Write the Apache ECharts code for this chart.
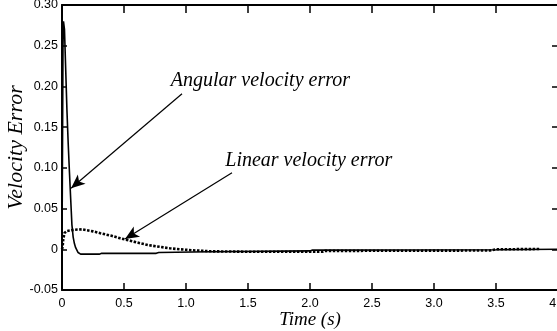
<!DOCTYPE html>
<html>
<head>
<meta charset="utf-8">
<script src="https://cdn.jsdelivr.net/npm/echarts@6/dist/echarts.min.js"></script>
<style>html,body{margin:0;padding:0;background:#fff}#c{width:557px;height:331px}</style>
</head>
<body>
<div id="c"></div>
<script>
// Angular velocity error (solid)
var angT = [0, 0.004, 0.008, 0.012, 0.016, 0.02, 0.03, 0.04, 0.05, 0.06, 0.07, 0.08, 0.09, 0.1, 0.11, 0.13, 0.15, 0.3, 0.32, 0.76, 0.78, 1.2, 2.0, 2.02, 3.5, 4.0];
var angV = [0, 0.12, 0.25, 0.28, 0.279, 0.27, 0.22, 0.17, 0.13, 0.095, 0.062, 0.03, 0.015, 0.007, 0.002, -0.004, -0.006, -0.006, -0.005, -0.005, -0.004, -0.003, -0.002, -0.001, -0.0005, 0];
// Linear velocity error (dotted)
var linT = [0, 0.005, 0.01, 0.02, 0.04, 0.1, 0.16, 0.25, 0.31, 0.4, 0.47, 0.55, 0.63, 0.7, 0.79, 0.87, 0.95, 1.05, 1.11, 1.2, 1.5, 2.1, 2.12, 3.45, 3.5, 3.85];
var linV = [0, 0.003, 0.012, 0.02, 0.0225, 0.024, 0.0245, 0.022, 0.0197, 0.0165, 0.0135, 0.0105, 0.0074, 0.005, 0.003, 0.0012, 0, -0.0012, -0.0017, -0.0025, -0.003, -0.003, -0.002, -0.0015, 0, 0.0003];
// Annotation texts and arrows (data coordinates)
var annoText = ['Angular velocity error', 'Linear velocity error'];
var annoTextPos = [[1.60, 0.207], [1.99, 0.109]];
var arrowFrom = [[0.968, 0.191], [1.371, 0.094]];
var arrowTo = [[0.073, 0.075], [0.508, 0.0127]];
var xTicks = [0, 0.5, 1.0, 1.5, 2.0, 2.5, 3.0, 3.5, 4.0];
var yTicks = [-0.05, 0, 0.05, 0.10, 0.15, 0.20, 0.25, 0.30];

function zip(a, b) { return a.map(function (v, i) { return [v, b[i]]; }); }

var chart = echarts.init(document.getElementById('c'), null, {renderer: 'canvas'});
var axisLine = {show: true, onZero: false, lineStyle: {color: '#000', width: 2}};
var labelFont = {fontFamily: 'Liberation Sans', fontSize: 12.5, color: '#000'};
chart.setOption({
  animation: false,
  backgroundColor: '#fff',
  grid: {left: 62, top: 5, width: 496, height: 285, containLabel: false, outerBoundsMode: 'none'},
  xAxis: [{
    type: 'value', min: xTicks[0], max: xTicks[xTicks.length - 1], interval: 0.5,
    axisLine: axisLine,
    axisTick: {show: true, inside: true, length: 7, lineStyle: {color: '#000', width: 1.5}},
    splitLine: {show: false},
    axisLabel: Object.assign({margin: 7, hideOverlap: false, showMaxLabel: true, formatter: function (v) { return Math.abs(v) < 1e-9 ? '0' : v.toFixed(1); }}, labelFont),
    name: 'Time (s)', nameLocation: 'middle', nameGap: 20, nameMoveOverlap: false,
    nameTextStyle: {fontFamily: 'Liberation Serif', fontStyle: 'italic', fontSize: 19, color: '#000', verticalAlign: 'top'}
  }, {
    type: 'value', position: 'top', min: xTicks[0], max: xTicks[xTicks.length - 1], interval: 0.5,
    axisLine: axisLine,
    axisTick: {show: true, inside: true, length: 8, lineStyle: {color: '#000', width: 1.5}},
    axisLabel: {show: false}, splitLine: {show: false}
  }],
  yAxis: [{
    type: 'value', min: yTicks[0], max: yTicks[yTicks.length - 1], interval: 0.05,
    axisLine: axisLine,
    axisTick: {show: true, inside: true, length: 5, lineStyle: {color: '#000', width: 1.5}},
    splitLine: {show: false},
    axisLabel: Object.assign({margin: 4, formatter: function (v) { return Math.abs(v) < 1e-9 ? '0' : v.toFixed(2); }}, labelFont),
    name: 'Velocity Error', nameLocation: 'middle', nameGap: 35, nameRotate: 90, nameMoveOverlap: false,
    nameTextStyle: {fontFamily: 'Liberation Serif', fontStyle: 'italic', fontSize: 22, color: '#000'}
  }, {
    type: 'value', position: 'right', min: yTicks[0], max: yTicks[yTicks.length - 1], interval: 0.05,
    axisLine: axisLine,
    axisTick: {show: true, inside: true, length: 6, lineStyle: {color: '#000', width: 1.5}},
    axisLabel: {show: false}, splitLine: {show: false}
  }],
  series: [{
    type: 'line', name: 'Angular', data: zip(angT, angV), showSymbol: false, symbol: 'none',
    lineStyle: {color: '#000', width: 1.6}, z: 3,
    markLine: {
      silent: true, symbol: ['none', 'arrow'], symbolSize: [9, 14],
      label: {show: false},
      lineStyle: {color: '#000', width: 1.2, type: 'solid'},
      data: arrowFrom.map(function (f, i) { return [{coord: f}, {coord: arrowTo[i]}]; })
    },
    markPoint: {
      silent: true, symbol: 'circle', symbolSize: 1,
      itemStyle: {color: 'rgba(0,0,0,0)'},
      label: {show: true, position: 'inside', fontFamily: 'Liberation Serif', fontStyle: 'italic', fontSize: 20, color: '#000',
        formatter: function (p) { return p.name; }},
      data: annoText.map(function (t, i) { return {name: t, coord: annoTextPos[i]}; })
    }
  }, {
    type: 'line', name: 'Linear', data: zip(linT, linV), showSymbol: false, symbol: 'none',
    lineStyle: {color: '#000', width: 2.6, type: [2.5, 1.5]}, z: 4
  }]
});
</script>
</body>
</html>
